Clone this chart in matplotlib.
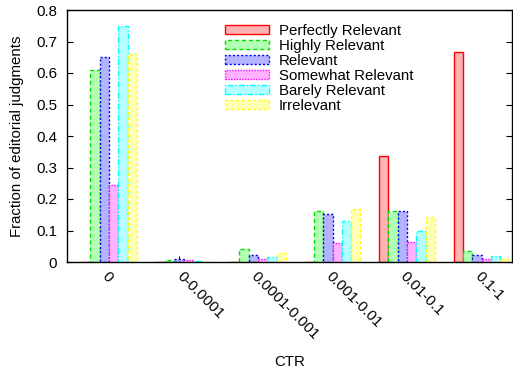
import matplotlib
matplotlib.use("Agg")
import matplotlib.pyplot as plt
from matplotlib.patches import Patch
import matplotlib.transforms as mtransforms
import numpy as np

categories = ["0", "0-0.0001", "0.0001-0.001", "0.001-0.01", "0.01-0.1", "0.1-1"]
series_names = ["Perfectly Relevant", "Highly Relevant", "Relevant",
                "Somewhat Relevant", "Barely Relevant", "Irrelevant"]
perfectly = [0.0, 0.0, 0.0, 0.0, 0.336, 0.668]
highly = [0.610, 0.006, 0.041, 0.162, 0.162, 0.035]
relevant = [0.650, 0.008, 0.021, 0.152, 0.162, 0.022]
somewhat = [0.244, 0.005, 0.010, 0.059, 0.062, 0.010]
barely = [0.749, 0.002, 0.016, 0.130, 0.098, 0.020]
irrelevant = [0.660, 0.001, 0.030, 0.168, 0.143, 0.010]
yticks = [0.0, 0.1, 0.2, 0.3, 0.4, 0.5, 0.6, 0.7, 0.8]
ytick_labels = ["0", "0.1", "0.2", "0.3", "0.4", "0.5", "0.6", "0.7", "0.8"]

values = [perfectly, highly, relevant, somewhat, barely, irrelevant]
edge_colors = ["#ff0000", "#00e000", "#0000ff", "#ff00ff", "#00ffff", "#ffff00"]
fill_colors = ["#ffb3b3", "#b3ffb3", "#b3b3ff", "#ffb3ff", "#b3ffff", "#ffffb3"]
styles = ["-", (0, (3, 2)), (0, (1.5, 1.5)), (0, (1, 1)), (0, (4, 1.5, 1, 1.5)), (0, (2, 2))]

plt.rcParams['font.family'] = ['Liberation Sans', 'DejaVu Sans']
FS = 10.8

fig = plt.figure(figsize=(5.13, 3.68), dpi=100)
ax = fig.add_axes([67/513, 1 - 262/368, (512 - 67)/513, (262 - 10)/368])

w = 0.125
x = np.arange(len(categories))
for j, vals in enumerate(values):
    ax.bar(x + (j - 2.5) * w, vals, width=w, align='center',
           facecolor=fill_colors[j], edgecolor=edge_colors[j],
           linewidth=1.0, linestyle=styles[j], zorder=2)

ax.set_xlim(-0.564, 5.409)
ax.set_ylim(0, 0.8)
ax.set_yticks(yticks)
ax.set_yticklabels(ytick_labels, fontsize=FS)
ax.tick_params(axis='y', direction='in', length=4.5, width=0.8, right=True, pad=7)

tickpos = x - 0.0625
ax.set_xticks(tickpos)
ax.set_xticklabels(categories, fontsize=FS, rotation=-45, ha='left', va='top',
                   rotation_mode='anchor')
ax.tick_params(axis='x', direction='in', length=4.5, width=0.8, top=False, pad=5)
offset = mtransforms.ScaledTranslation(5/100, 0, fig.dpi_scale_trans)
for lab in ax.get_xticklabels():
    lab.set_transform(lab.get_transform() + offset)

for s in ax.spines.values():
    s.set_linewidth(1.0)

ax.set_ylabel("Fraction of editorial judgments", fontsize=FS, labelpad=9)
ax.set_xlabel("CTR", fontsize=FS)
ax.xaxis.label.set_va('center')
ax.xaxis.set_label_coords(0.5, -(362 - 262) / 252)

handles = [Patch(facecolor=fill_colors[j], edgecolor=edge_colors[j],
                 linestyle=styles[j], linewidth=1.0, label=series_names[j])
           for j in range(6)]
leg = fig.legend(handles=handles, loc='upper left',
                 bbox_to_anchor=(225/513, 1 - 23.5/368), frameon=False,
                 fontsize=FS, borderpad=0, borderaxespad=0, handlelength=2.9,
                 handleheight=0.55, handletextpad=0.7, labelspacing=0.07)

fig.savefig("out.png", dpi=100)
